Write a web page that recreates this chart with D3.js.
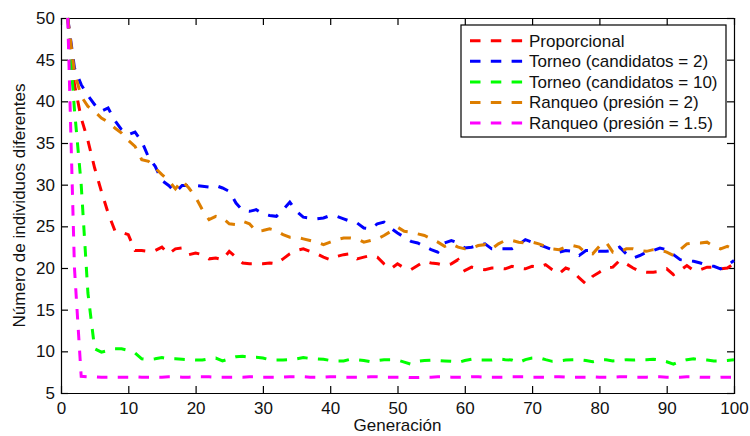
<!DOCTYPE html>
<html>
<head>
<meta charset="utf-8">
<script src="https://cdn.jsdelivr.net/npm/d3@7"></script>
<style>
  body { margin: 0; background: #fff; }
  text { font-family: "Liberation Sans", Arial, sans-serif; fill: #111; }
  .eje path, .eje line { stroke: #000; stroke-width: 1.2; }
  .eje text { font-size: 17px; }
  .linea { fill: none; stroke-width: 3; stroke-dasharray: 10.5, 10.3; }
</style>
</head>
<body>
<div id="graf"></div>
<script>
// I. Datos

generaciones = d3.range(1, 101)

proporcional = [
  50, 42, 38, 35.3, 32, 29.2, 26.6, 24.5, 24.3, 24,
  22.1, 22.1, 22, 22.1, 22.5, 21.7, 22.3, 22.4, 21.6, 21.8,
  21.6, 21.1, 21.2, 21, 22, 21.3, 20.6, 20.5, 20.5, 20.5,
  20.6, 20.5, 21.1, 21.7, 22.1, 22.3, 22, 21.7, 21.3, 21,
  21.4, 21.6, 21.7, 21.1, 21.3, 21.5, 21.3, 20.5, 19.9, 20.5,
  20, 19.8, 20.3, 20.8, 20.6, 20.5, 20.3, 20.5, 21, 19.7,
  20.1, 19.9, 19.8, 20, 20, 19.9, 20.2, 20, 19.9, 20.2,
  20.1, 20.4, 19.8, 19.3, 20, 19.7, 18.8, 18.1, 19, 19.5,
  20, 20.1, 20.9, 20.5, 20, 19.6, 19.5, 19.5, 19.6, 19.9,
  19.2, 19.7, 20.3, 19.7, 19.8, 20.1, 20.1, 19.9, 20, 20.5
]

torneo2 = [
  50, 44, 42, 40.7, 39.6, 38.8, 39.2, 37.7, 36.6, 36,
  36.3, 35.2, 33.3, 32.2, 30.5, 29.9, 29.1, 29.9, 29.9, 29.9,
  29.8, 29.7, 29.9, 29.6, 29.2, 27.8, 26.9, 26.8, 27, 26.5,
  26.3, 26.2, 27, 27.9, 26.8, 26.1, 26, 25.9, 26, 26.3,
  26.2, 25.9, 25.6, 25.4, 24.8, 24.7, 25.3, 25.5, 24.8, 24.2,
  23.7, 23.2, 23, 22.6, 22.2, 21.9, 23, 23.3, 23, 22.4,
  22.5, 22.7, 22.9, 22.3, 22.3, 22.3, 22.3, 22.8, 23.4, 23.1,
  22.8, 22.5, 22.2, 21.9, 22.1, 22, 21.5, 22.1, 22.1, 22,
  22, 22.1, 22.5, 21.7, 21.2, 21.5, 21.9, 22.1, 22.4, 22.2,
  21.6, 21, 20.9, 20.8, 20.6, 20.3, 20.2, 19.9, 20.3, 20.9
]

torneo10 = [
  50, 39, 30, 17, 10.3, 9.9, 10.1, 10.3, 10.3, 10.1,
  9.8, 9.1, 9, 9.1, 9.25, 9.1, 9.1, 9.05, 9, 8.95,
  8.95, 9.1, 9.2, 8.85, 9.1, 9.35, 9.4, 9.3, 9.3, 9.2,
  9, 8.95, 8.95, 9, 9.1, 9.25, 9.15, 9.1, 9.05, 8.9,
  8.85, 8.85, 9.05, 9, 8.9, 8.75, 8.9, 9, 9, 8.95,
  8.7, 8.45, 8.8, 8.9, 8.95, 8.9, 8.85, 8.8, 8.65, 8.9,
  9.05, 8.95, 8.95, 8.95, 9.1, 9, 8.95, 8.65, 9, 9.2,
  9.25, 9, 8.8, 8.85, 8.95, 9, 9, 8.9, 8.75, 8.95,
  9, 8.85, 8.9, 9, 8.95, 9, 9, 9.05, 8.95, 8.75,
  8.45, 8.8, 9, 9.1, 9, 8.95, 8.85, 8.85, 8.9, 9
]

ranqueo2 = [
  50, 43.5, 40.6, 39.4, 38.8, 38, 37.5, 36.8, 36.2, 35.3,
  34.6, 33, 32.8, 32, 31.2, 30.5, 29.5, 30.5, 29.6, 28.5,
  27, 25.8, 26.2, 26, 25.3, 25.2, 25.6, 25.3, 24.4, 24.5,
  24.7, 24.5, 24, 23.7, 23.7, 23.5, 23.3, 23.1, 22.8, 23.1,
  23.4, 23.6, 23.6, 23.5, 23.1, 23.3, 23.5, 23.9, 24.4, 24.9,
  24.4, 24.3, 24.1, 23.9, 23.5, 23.1, 22.6, 22.9, 22.5, 22.3,
  22.4, 22.7, 22.8, 22.3, 22.9, 23.3, 23.3, 23.1, 23, 23.1,
  22.9, 22.6, 22.3, 22.2, 22.5, 22.7, 22.5, 21.8, 21.7, 22.6,
  23.1, 21.9, 21.9, 22.3, 22.3, 22.1, 22, 22.2, 22.2, 21.9,
  21.5, 22.2, 22.9, 23, 23, 23.1, 22.6, 22.3, 22.6, 22.2
]

ranqueo15 = [
  50, 20, 7, 6.95, 6.95, 6.9, 6.9, 6.9, 6.9, 6.9,
  6.95, 6.9, 6.9, 6.9, 6.9, 6.95, 6.95, 6.9, 6.9, 6.95,
  6.95, 6.95, 6.9, 6.9, 6.9, 6.9, 6.9, 6.95, 6.95, 6.9,
  6.9, 6.9, 6.9, 6.95, 6.95, 6.95, 6.9, 6.9, 6.9, 6.95,
  6.95, 6.9, 6.9, 6.9, 6.9, 6.95, 6.95, 6.9, 6.9, 6.9,
  6.9, 6.85, 6.85, 6.9, 6.9, 6.95, 6.95, 6.9, 6.9, 6.9,
  6.95, 6.95, 6.9, 6.9, 6.9, 6.9, 6.95, 6.95, 6.95, 6.9,
  6.9, 6.9, 6.95, 6.95, 6.9, 6.9, 6.9, 6.9, 6.95, 6.9,
  6.9, 6.9, 6.95, 6.95, 6.9, 6.9, 6.9, 6.95, 6.95, 6.9,
  6.9, 6.9, 6.95, 6.95, 6.9, 6.9, 6.85, 6.9, 6.9, 6.9
]

nombres = ['Proporcional', 'Torneo (candidatos = 2)', 'Torneo (candidatos = 10)',
  'Ranqueo (presión = 2)', 'Ranqueo (presión = 1.5)']
colores = ['#ff0000', '#0000ff', '#00ff00', '#dd7e00', '#ff00ff']
series = [proporcional, torneo2, torneo10, ranqueo2, ranqueo15]

ticksX = [0, 10, 20, 30, 40, 50, 60, 70, 80, 90, 100]
ticksY = [5, 10, 15, 20, 25, 30, 35, 40, 45, 50]

// II. Configuracion

ancho_total = 750
alto_total = 436
margins = { top: 18, left: 61, right: 16, bottom: 43 }
ancho = ancho_total - margins.left - margins.right
alto = alto_total - margins.top - margins.bottom

svg = d3.select('#graf').append('svg')
  .attr('width', ancho_total)
  .attr('height', alto_total)

g = svg.append('g')
  .attr('transform', `translate(${margins.left}, ${margins.top})`)

x = d3.scaleLinear().domain([0, 100]).range([0, ancho])
y = d3.scaleLinear().domain([5, 50]).range([alto, 0])

// Ejes (ticks hacia adentro, caja completa)
g.append('g').attr('class', 'eje')
  .attr('transform', `translate(0, ${alto})`)
  .call(d3.axisBottom(x).tickValues(ticksX).tickSize(-7).tickSizeOuter(0).tickPadding(8.5))
g.append('g').attr('class', 'eje')
  .call(d3.axisLeft(y).tickValues(ticksY).tickSize(-7).tickSizeOuter(0).tickPadding(6))
g.append('g').attr('class', 'eje')
  .call(d3.axisTop(x).tickValues(ticksX).tickSize(-7).tickSizeOuter(0).tickFormat(''))
g.append('g').attr('class', 'eje')
  .attr('transform', `translate(${ancho}, 0)`)
  .call(d3.axisRight(y).tickValues(ticksY).tickSize(-7).tickSizeOuter(0).tickFormat(''))

g.selectAll('.eje .domain').attr('stroke-linecap', 'square')

// Lineas
linea = d3.line()
  .x((d, i) => x(generaciones[i]))
  .y(d => y(d))

series.forEach((s, k) => {
  g.append('path')
    .datum(s)
    .attr('class', 'linea')
    .attr('stroke', colores[k])
    .attr('d', linea)
})

// Titulos de ejes
svg.append('text')
  .attr('x', margins.left + ancho / 2)
  .attr('y', 431)
  .attr('text-anchor', 'middle')
  .style('font-size', '17px')
  .text('Generación')

svg.append('text')
  .attr('transform', `translate(25, ${margins.top + alto / 2}) rotate(-90)`)
  .attr('text-anchor', 'middle')
  .style('font-size', '17px')
  .text('Número de individuos diferentes')

// Leyenda
leyenda = svg.append('g').attr('transform', 'translate(461, 25)')
leyenda.append('rect')
  .attr('width', 265)
  .attr('height', 112)
  .attr('fill', '#fff')
  .attr('stroke', '#000')
  .attr('stroke-width', 1.2)

filas = leyenda.selectAll('.fila')
  .data(nombres)
  .join('g')
  .attr('class', 'fila')
  .attr('transform', (d, i) => `translate(0, ${15.7 + i * 20.6})`)

filas.append('line')
  .attr('class', 'linea')
  .attr('x1', 9).attr('x2', 62)
  .attr('stroke', (d, i) => colores[i])

filas.append('text')
  .attr('x', 68)
  .attr('dy', '0.35em')
  .style('font-size', '17px')
  .text(d => d)
</script>
</body>
</html>
